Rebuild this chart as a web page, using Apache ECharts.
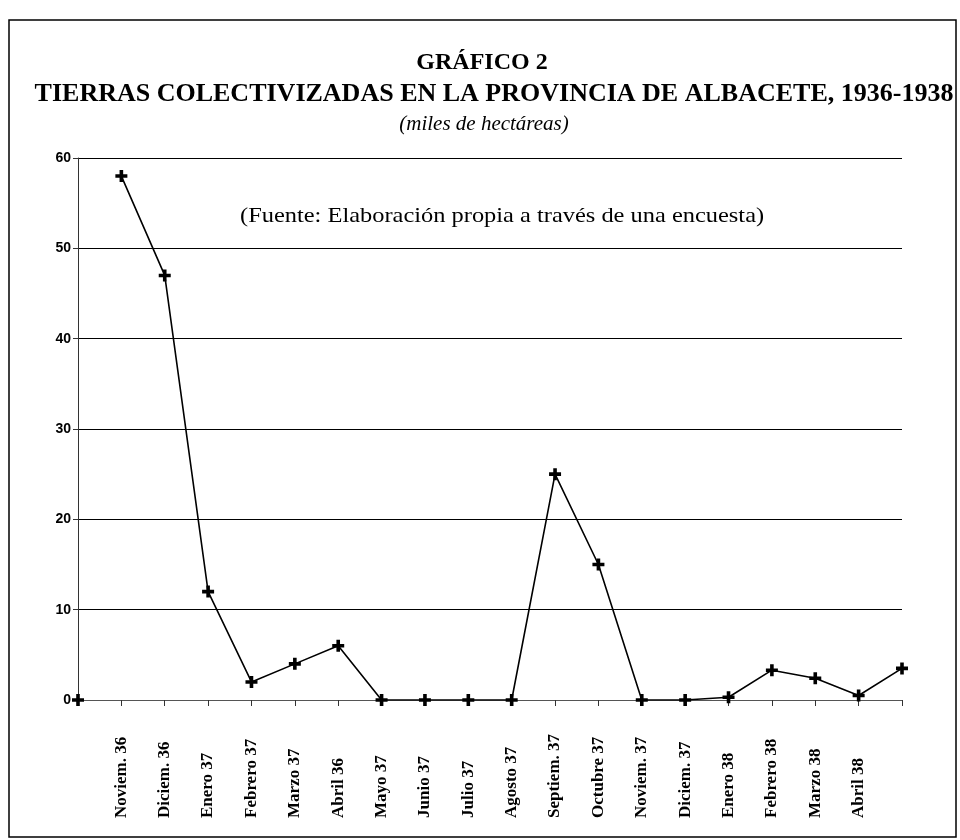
<!DOCTYPE html>
<html>
<head>
<meta charset="utf-8">
<script src="https://cdn.jsdelivr.net/npm/echarts@6/dist/echarts.min.js"></script>
<style>
  html, body { margin: 0; padding: 0; background: #fff; }
  #chart { width: 960px; height: 840px; }
</style>
</head>
<body>
<div id="chart"></div>
<script>
// meses (the first and the last point have no label in the original)
const months = ['', 'Noviem. 36', 'Diciem. 36', 'Enero 37', 'Febrero 37', 'Marzo 37', 'Abril 36',
  'Mayo 37', 'Junio 37', 'Julio 37', 'Agosto 37', 'Septiem. 37', 'Octubre 37', 'Noviem. 37',
  'Diciem. 37', 'Enero 38', 'Febrero 38', 'Marzo 38', 'Abril 38', '']
// miles de hectáreas
const hectareas = [0, 58, 47, 12, 2, 4, 6, 0, 0, 0, 0, 25, 15, 0, 0, 0.3, 3.3, 2.4, 0.5, 3.5]
const yTicks = [0, 10, 20, 30, 40, 50, 60]

const chart = echarts.init(document.getElementById('chart'))
const serif = '"Liberation Serif", "DejaVu Serif", serif'
const plus = 'path://M3.5,0H6.5V3.5H10V6.5H6.5V10H3.5V6.5H0V3.5H3.5Z'

// the origin point stands alone, the line starts at Noviem. 36
const lineData = hectareas.map((v, i) => i === 0 ? '-' : v)
const originData = hectareas.map((v, i) => i === 0 ? v : '-')

function label(text, x, y, font, align, scaleX) {
  return {
    type: 'text',
    x: x, y: y,
    scaleX: scaleX || 1,
    style: {text: text, font: font, fill: '#000', align: align, verticalAlign: 'top'}
  }
}

const option = {
  backgroundColor: '#fff',
  animation: false,
  graphic: [
    {
      type: 'rect',
      shape: {x: 9, y: 20, width: 947, height: 817},
      style: {fill: 'none', stroke: '#000', lineWidth: 1.5}
    },
    label('GRÁFICO 2', 482, 51, 'bold 24px ' + serif, 'center'),
    label('TIERRAS COLECTIVIZADAS EN LA PROVINCIA DE ALBACETE, 1936-1938', 494, 81, 'bold 26px ' + serif, 'center'),
    label('(miles de hectáreas)', 484, 114, 'italic 21px ' + serif, 'center'),
    label('(Fuente: Elaboración propia a través de una encuesta)', 240, 205, '22px ' + serif, 'left', 1.11)
  ],
  grid: {left: 78, right: 58, top: 158, bottom: 140},
  xAxis: {
    type: 'category',
    data: months,
    boundaryGap: false,
    axisLine: {lineStyle: {color: '#555', width: 1}},
    axisTick: {show: true, interval: 0, length: 6, lineStyle: {color: '#333'}},
    axisLabel: {
      interval: 0,
      rotate: 90,
      align: 'left',
      verticalAlign: 'middle',
      margin: 118,
      fontFamily: serif,
      fontWeight: 'bold',
      fontSize: 17,
      color: '#000'
    }
  },
  yAxis: {
    type: 'value',
    min: yTicks[0],
    max: yTicks[yTicks.length - 1],
    interval: 10,
    axisLine: {show: true, lineStyle: {color: '#333', width: 1}},
    axisTick: {show: true, length: 5, lineStyle: {color: '#333'}},
    axisLabel: {
      margin: 7,
      fontFamily: '"Liberation Sans", Arial, sans-serif',
      fontWeight: 'bold',
      fontSize: 14,
      color: '#000'
    },
    splitLine: {lineStyle: {color: '#000', width: 1}}
  },
  series: [
    {
      type: 'line',
      data: lineData,
      symbol: plus,
      symbolSize: 12,
      showAllSymbol: true,
      lineStyle: {color: '#000', width: 1.6},
      itemStyle: {color: '#000'}
    },
    {
      type: 'line',
      data: originData,
      symbol: plus,
      symbolSize: 12,
      showAllSymbol: true,
      lineStyle: {width: 0},
      itemStyle: {color: '#000'}
    }
  ]
}

chart.setOption(option)
</script>
</body>
</html>
